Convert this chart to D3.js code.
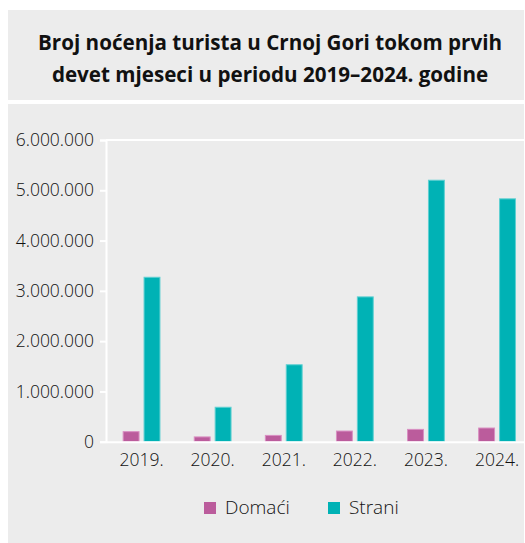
<!DOCTYPE html>
<html lang="sr">

<head>
    <meta charset="UTF-8">
    <title>Broj noćenja turista</title>
    <script src="https://d3js.org/d3.v7.min.js"></script>
    <style>
        body { margin: 0; background: #fff; }
        text { font-family: "Open Sans", "Noto Sans", sans-serif; }
    </style>
</head>

<body>
    <div id="chart"></div>

    <script>
        var width = 525;
        var height = 543;

        // data
        const years = ["2019.", "2020.", "2021.", "2022.", "2023.", "2024."];
        const series = ["Domaći", "Strani"];
        const domaci = [200000, 95000, 125000, 212000, 245000, 272000];
        const strani = [3270000, 685000, 1530000, 2880000, 5200000, 4830000];
        const yTicks = [0, 1000000, 2000000, 3000000, 4000000, 5000000, 6000000];
        const titleLines = ["Broj noćenja turista u Crnoj Gori tokom prvih",
                            "devet mjeseci u periodu 2019–2024. godine"];

        const colors = { "Domaći": "#bb5c9c", "Strani": "#00b2b5" };
        const strokes = { "Domaći": "#d98fc2", "Strani": "#5fd0d2" };

        const svg = d3.select("#chart").append("svg")
            .attr("width", width)
            .attr("height", height);

        // grey panels
        svg.append("rect").attr("x", 8).attr("y", 10).attr("width", 516).attr("height", 90).attr("fill", "#ececec");
        svg.append("rect").attr("x", 8).attr("y", 104).attr("width", 516).attr("height", 439).attr("fill", "#ececec");

        svg.append("text")
            .attr("x", 270)
            .attr("text-anchor", "middle")
            .attr("font-size", 20.6)
            .attr("font-weight", 700)
            .attr("fill", "#111")
            .selectAll("tspan")
            .data(titleLines)
            .join("tspan")
            .attr("x", 270)
            .attr("y", (d, i) => 50 + i * 32)
            .text(d => d);

        // scales
        const x0 = d3.scaleBand().domain(years).range([106, 532.6]);
        const c = x0.bandwidth() / 2;
        const x1 = d3.scaleBand().domain(series).range([c - 18.4, c + 18.4]).paddingInner(0.24);
        const y = d3.scaleLinear().domain([0, 6000000]).range([441.7, 140]);

        const fmt = v => d3.format(",")(v).replace(/,/g, ".");

        // y axis
        const yAxis = svg.append("g")
            .attr("transform", "translate(106,0)")
            .call(d3.axisLeft(y).tickValues(yTicks).tickSize(6).tickPadding(6).tickFormat(fmt));
        yAxis.select(".domain").attr("stroke", "#fff").attr("stroke-width", 2);
        yAxis.selectAll(".tick line").attr("stroke", "#fff").attr("stroke-width", 2);
        yAxis.selectAll(".tick text")
            .attr("font-size", 17.5)
            .attr("font-weight", 300)
            .attr("fill", "#111")
            .attr("font-family", "'Open Sans', sans-serif");

        // top line
        svg.append("line")
            .attr("x1", 106).attr("x2", 524)
            .attr("y1", y(6000000)).attr("y2", y(6000000))
            .attr("stroke", "#fff").attr("stroke-width", 2);

        // bars
        const rows = years.map((yr, i) => ({ year: yr, values: [domaci[i], strani[i]] }));
        svg.append("g")
            .selectAll("g")
            .data(rows)
            .join("g")
            .attr("transform", d => "translate(" + x0(d.year) + ",0)")
            .selectAll("rect")
            .data(d => series.map((s, j) => ({ key: s, value: d.values[j] })))
            .join("rect")
            .attr("x", d => x1(d.key))
            .attr("y", d => y(d.value))
            .attr("width", x1.bandwidth())
            .attr("height", d => y(0) - y(d.value))
            .attr("fill", d => colors[d.key])
            .attr("stroke", d => strokes[d.key])
            .attr("stroke-width", 1);

        // x axis
        const xAxis = svg.append("g")
            .attr("transform", "translate(0," + y(0) + ")")
            .call(d3.axisBottom(x0).tickSize(0).tickPadding(12));
        xAxis.select(".domain").attr("stroke", "#fff").attr("stroke-width", 2);
        xAxis.selectAll(".tick text")
            .attr("font-size", 17.5)
            .attr("font-weight", 300)
            .attr("fill", "#111")
            .attr("font-family", "'Open Sans', sans-serif");

        // legend
        const legend = svg.append("g")
            .selectAll("g")
            .data(series)
            .join("g")
            .attr("transform", (d, i) => "translate(" + (204 + i * 124) + ",502)");
        legend.append("rect")
            .attr("width", 12).attr("height", 12)
            .attr("fill", d => colors[d]);
        legend.append("text")
            .attr("x", 21).attr("y", 12)
            .attr("font-size", 19)
            .attr("font-weight", 300)
            .attr("fill", "#111")
            .text(d => d);
    </script>
</body>

</html>
